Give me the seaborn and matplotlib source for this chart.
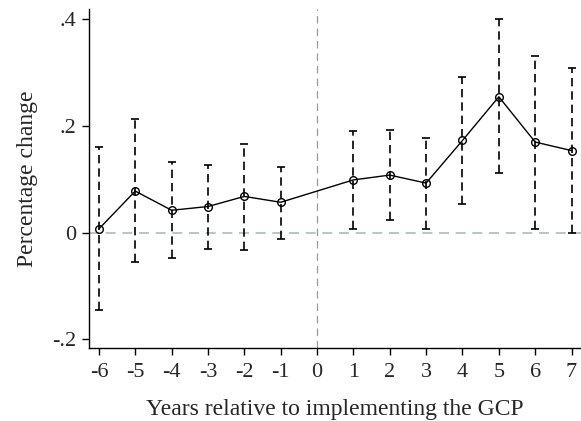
import matplotlib
matplotlib.use("Agg")
import matplotlib.pyplot as plt
import seaborn as sns
import pandas as pd
import numpy as np

years = [-6, -5, -4, -3, -2, -1, 1, 2, 3, 4, 5, 6, 7]
coef = [0.007, 0.078, 0.042, 0.049, 0.068, 0.057, 0.099, 0.108, 0.093, 0.173, 0.255, 0.170, 0.154]
ci_upper = [0.161, 0.213, 0.132, 0.127, 0.167, 0.124, 0.190, 0.192, 0.177, 0.293, 0.401, 0.332, 0.309]
ci_lower = [-0.145, -0.056, -0.047, -0.030, -0.032, -0.011, 0.006, 0.024, 0.006, 0.054, 0.112, 0.006, -0.001]
xticks = list(range(-6, 8))
yticks = [-0.2, 0, 0.2, 0.4]
ytick_labels = ["-.2", "0", ".2", ".4"]

df = pd.DataFrame({"year": years, "coef": coef, "lo": ci_lower, "hi": ci_upper})

sns.set_style("white")
plt.rcParams["font.family"] = ["Liberation Serif", "DejaVu Serif"]

fig = plt.figure(figsize=(5.81, 4.21), dpi=100)
ax = fig.add_axes([0.153, 0.174, 0.847, 0.805])

# reference lines
ax.axhline(0, color="#a9bcb9", lw=1.2, ls=(0, (6, 4)), zorder=1)
ax.axvline(0, color="#999999", lw=0.9, ls=(0, (6, 4)), zorder=1)

# error bars
eb = ax.errorbar(df["year"], df["coef"],
                 yerr=[df["coef"] - df["lo"], df["hi"] - df["coef"]],
                 fmt="none", ecolor="black", elinewidth=1.2, capsize=3,
                 capthick=1.2, zorder=2)
for lc in eb[2]:
    lc.set_linestyle((0, (5, 3)))

sns.lineplot(data=df, x="year", y="coef", ax=ax, color="black", lw=1.0,
             marker="o", markersize=5.5, markerfacecolor="none",
             markeredgecolor="black", markeredgewidth=1.0, zorder=3)

ax.set_xlim(-6.275, 7.26)
ax.set_ylim(-0.216, 0.42)
ax.set_xticks(xticks)
ax.set_xticklabels([str(t) for t in xticks], fontsize=16)
ax.set_yticks(yticks)
ax.set_yticklabels(ytick_labels, fontsize=16)
ax.tick_params(axis="x", direction="out", length=5, width=1, color="black",
               bottom=True, pad=6)
ax.tick_params(axis="y", direction="out", length=5, width=1, color="black",
               left=True, pad=4)

for s in ["top", "right"]:
    ax.spines[s].set_visible(False)
for s in ["left", "bottom"]:
    ax.spines[s].set_color("black")
    ax.spines[s].set_linewidth(1.0)

ax.set_xlabel("Years relative to implementing the GCP", fontsize=17, labelpad=12)
ax.set_ylabel("Percentage change", fontsize=17, labelpad=10)

fig.savefig("out.png", dpi=100)
